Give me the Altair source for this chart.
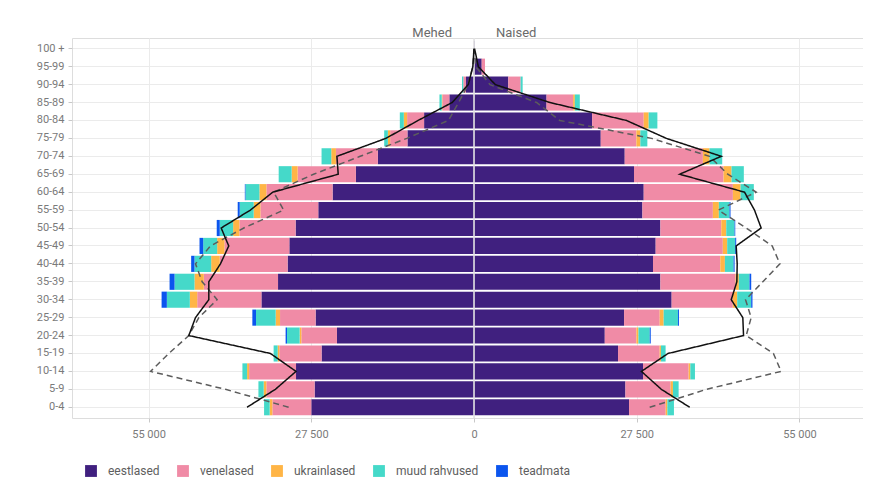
import altair as alt
import pandas as pd

ages = ["0-4", "5-9", "10-14", "15-19", "20-24", "25-29", "30-34", "35-39",
        "40-44", "45-49", "50-54", "55-59", "60-64", "65-69", "70-74", "75-79",
        "80-84", "85-89", "90-94", "95-99", "100 +"]

groups = ["eestlased", "venelased", "ukrainlased", "muud rahvused", "teadmata"]
group_colors = ["#40207f", "#f08ba6", "#ffb546", "#45d9c9", "#0b55ee"]

# Men (drawn to the left)
men_eestlased = [27500, 26940, 30080, 25760, 23160, 26770, 35930, 33120, 31500, 31210,
                 30150, 26320, 23900, 19960, 16250, 11250, 8435, 4170, 1350, 100, 20]
men_venelased = [6580, 8150, 7930, 7140, 6020, 6010, 10850, 12550, 11470, 10970,
                 9500, 9785, 11190, 9850, 7085, 2920, 2870, 1180, 455, 0, 0]
men_ukrainlased = [455, 455, 340, 290, 290, 740, 1250, 1570, 1450, 1230,
                   1060, 1130, 1180, 1010, 790, 390, 560, 100, 0, 0, 0]
men_muud = [945, 890, 790, 675, 2130, 3320, 3880, 3370, 2820, 2360,
            2260, 2360, 2360, 2190, 1640, 620, 675, 390, 220, 0, 0]
men_teadmata = [0, 0, 0, 0, 240, 620, 890, 840, 560, 620,
                510, 340, 100, 0, 0, 0, 0, 0, 0, 0, 0]

# Women (drawn to the right)
women_eestlased = [26200, 25590, 28560, 24340, 22100, 25360, 33400, 31500, 30250, 30700,
                   31500, 28460, 28680, 27040, 25470, 21420, 19960, 12260, 5790, 1300, 80]
women_venelased = [6190, 7640, 7710, 7030, 5350, 6020, 10340, 12700, 11370, 11350,
                   10290, 11910, 15070, 15130, 13210, 6020, 8720, 4490, 2090, 560, 0]
women_ukrainlased = [290, 390, 290, 220, 340, 675, 740, 560, 780, 740,
                     840, 1010, 1300, 1350, 1130, 675, 840, 290, 0, 0, 0]
women_muud = [1110, 960, 780, 790, 1910, 2410, 2360, 1800, 1470, 1350,
              1400, 1800, 2240, 2080, 2140, 1180, 1470, 840, 340, 0, 0]
women_teadmata = [0, 0, 0, 0, 170, 170, 220, 290, 170, 170,
                  120, 170, 0, 0, 0, 0, 0, 0, 0, 0, 0]

# Comparison lines (solid and dashed)
men_line_solid = [38350, 33570, 30080, 34410, 48200, 47070, 44820, 44820, 42850, 41450,
                  42730, 37790, 34000, 22950, 23170, 14900, 9450, 3700, 960, 200, 0]
men_line_dashed = [31330, 42010, 54660, 51570, 48200, 46510, 43410, 45940, 47070, 44540,
                   38910, 32170, 33860, 27110, 19230, 11360, 4330, 2600, 1000, 200, 0]
women_line_solid = [36440, 31660, 28290, 32790, 45550, 45430, 43470, 44420, 44480, 44310,
                    48530, 47400, 45720, 34750, 41790, 32510, 25760, 12820, 3600, 730, 100]
women_line_dashed = [29690, 39300, 51900, 50600, 46000, 46840, 45890, 48810, 51700, 50400,
                     46000, 41300, 47690, 42880, 39800, 30000, 14500, 10580, 2700, 300, 0]

side_labels = ["Mehed", "Naised"]

# ---- build tables ----
men_groups = [men_eestlased, men_venelased, men_ukrainlased, men_muud, men_teadmata]
women_groups = [women_eestlased, women_venelased, women_ukrainlased, women_muud, women_teadmata]

bar_rows = []
for gi, g in enumerate(groups):
    for a, m, w in zip(ages, men_groups[gi], women_groups[gi]):
        bar_rows.append({"age": a, "group": g, "ord": gi, "value": -m})
        bar_rows.append({"age": a, "group": g, "ord": gi, "value": w})
bar_df = pd.DataFrame(bar_rows)

line_rows = []
for series, mvals, wvals in [("solid", men_line_solid, women_line_solid),
                             ("dashed", men_line_dashed, women_line_dashed)]:
    for i, (a, m, w) in enumerate(zip(ages, mvals, wvals)):
        line_rows.append({"age": a, "idx": i, "series": series, "side": "m", "value": -m})
        line_rows.append({"age": a, "idx": i, "series": series, "side": "w", "value": w})
line_df = pd.DataFrame(line_rows)

age_order_top = list(reversed(ages))

FONT = "Roboto"
x_scale = alt.Scale(domain=[-67940, 65740], nice=False, zero=False)
x_axis = alt.Axis(
    title=None,
    values=[-55000, -27500, 0, 27500, 55000],
    labelExpr="replace(format(abs(datum.value), ','), ',', ' ')",
    grid=True, gridColor="#ebebeb", gridWidth=1,
    domain=False, ticks=True, tickColor="#c8c8c8", tickSize=4,
    labelColor="#7a7a7a", labelFontSize=11, labelFont=FONT, labelPadding=6,
)
y_scale = alt.Scale(paddingInner=0.1, paddingOuter=0.15)
y_axis = alt.Axis(
    title=None, grid=True, gridColor="#ebebeb", gridWidth=1, bandPosition=0.5,
    domain=False, ticks=True, tickColor="#c8c8c8", tickSize=4,
    labelColor="#7a7a7a", labelFontSize=11, labelFont=FONT, labelPadding=4,
)

bars = alt.Chart(bar_df).mark_bar().encode(
    x=alt.X("value:Q", stack="zero", scale=x_scale, axis=x_axis),
    y=alt.Y("age:N", sort=age_order_top, scale=y_scale, axis=y_axis),
    color=alt.Color(
        "group:N",
        scale=alt.Scale(domain=groups, range=group_colors),
        legend=alt.Legend(
            title=None, orient="none", legendX=13, legendY=427,
            direction="horizontal", symbolType="square", symbolSize=140,
            symbolStrokeWidth=0, labelFontSize=12, labelFont=FONT,
            labelColor="#5e5e5e", labelOffset=11, columnPadding=17,
        ),
    ),
    order=alt.Order("ord:Q", sort="ascending"),
)

center = alt.Chart(pd.DataFrame({"z": [0]})).mark_rule(
    color="#e4e4e4", strokeWidth=1.6
).encode(x=alt.datum(0))

def line_layer(series, color, dash):
    return alt.Chart(line_df).transform_filter(
        alt.datum.series == series
    ).mark_line(color=color, strokeWidth=1.5, strokeDash=dash).encode(
        x=alt.X("value:Q", scale=x_scale, axis=x_axis),
        y=alt.Y("age:N", sort=age_order_top, scale=y_scale, axis=y_axis, bandPosition=0.5),
        detail="side:N",
        order=alt.Order("idx:Q"),
    )

dashed = line_layer("dashed", "#5c5c5c", [6, 4])
solid = line_layer("solid", "#111111", [1, 0])

lbl_df = pd.DataFrame({"label": side_labels})
mehed = alt.Chart(lbl_df).transform_filter(alt.datum.label == side_labels[0]).mark_text(
    align="right", baseline="middle", dx=-22, fontSize=13, font=FONT, color="#6a6a6a"
).encode(x=alt.datum(0), y=alt.value(-5), text="label:N")
naised = alt.Chart(lbl_df).transform_filter(alt.datum.label == side_labels[1]).mark_text(
    align="left", baseline="middle", dx=22, fontSize=13, font=FONT, color="#6a6a6a"
).encode(x=alt.datum(0), y=alt.value(-5), text="label:N")

chart = alt.layer(bars, center, dashed, solid, mehed, naised).properties(
    width=791, height=380,
    autosize=alt.AutoSizeParams(type="none"),
    padding={"left": 64, "top": 30, "right": 0, "bottom": 62},
).configure_view(stroke=None).configure(background="white")

chart.save("out.html", embed_options={"renderer": "svg", "actions": False})
